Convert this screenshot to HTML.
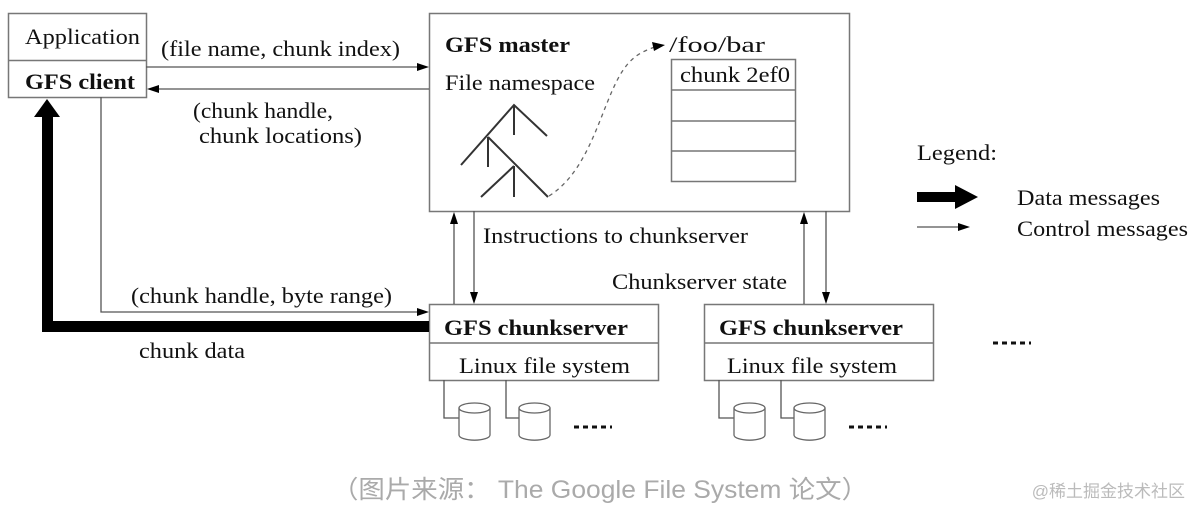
<!DOCTYPE html>
<html><head><meta charset="utf-8"><style>
html,body{margin:0;padding:0;background:#fff;}
svg{display:block}
.t{font-family:"Liberation Serif",serif;font-size:22px;fill:#111}
.b{font-weight:bold}
</style></head><body>
<svg width="1200" height="514" viewBox="0 0 1200 514" xmlns="http://www.w3.org/2000/svg">
<g fill="none" stroke="#777" stroke-width="1.5">
<rect x="8.5" y="13.5" width="138" height="84"/>
<line x1="8" y1="60.5" x2="146" y2="60.5"/>
<rect x="429.5" y="13.5" width="420" height="198"/>
<rect x="671.5" y="59.5" width="124" height="122"/>
<line x1="671" y1="90" x2="795" y2="90"/>
<line x1="671" y1="121" x2="795" y2="121"/>
<line x1="671" y1="151" x2="795" y2="151"/>
<rect x="429.5" y="304.5" width="229" height="76"/>
<line x1="429" y1="343" x2="658" y2="343"/>
<rect x="704.5" y="304.5" width="229" height="76"/>
<line x1="704" y1="343" x2="933" y2="343"/>
</g>
<g stroke="#555" stroke-width="1.3" fill="none">
<line x1="146" y1="67" x2="420" y2="67"/>
<line x1="158" y1="89" x2="429" y2="89"/>
<polyline points="101,97 101,312 420,312"/>
<line x1="454" y1="222" x2="454" y2="304"/>
<line x1="474" y1="211" x2="474" y2="294"/>
<line x1="804" y1="222" x2="804" y2="304"/>
<line x1="826" y1="211" x2="826" y2="294"/>
<line x1="917" y1="227" x2="960" y2="227"/>
<g stroke="#333" stroke-width="2">
<polyline points="461,165 514,105 547,136"/>
<line x1="514" y1="105" x2="514" y2="135"/>
<polyline points="488,137 548,197"/>
<line x1="488" y1="137" x2="488" y2="167"/>
<polyline points="481,197 514,166"/>
<line x1="514" y1="166" x2="514" y2="197"/>
</g>
<path d="M549,196 C590,170 600,110 620,75 C630,58 640,52 655,47" stroke-dasharray="4,4" stroke="#666"/>
<polyline points="444,380 444,418 459,418"/>
<polyline points="506,380 506,418 520,418"/>
<polyline points="719,380 719,418 734,418"/>
<polyline points="781,380 781,418 796,418"/>
</g>
<g fill="#000">
<polygon points="429,67 417,63 417,71"/>
<polygon points="147,89 159,85 159,93"/>
<polygon points="429,312 417,308 417,316"/>
<polygon points="454,212 450,224 458,224"/>
<polygon points="474,304 470,292 478,292"/>
<polygon points="804,212 800,224 808,224"/>
<polygon points="826,304 822,292 830,292"/>
<polygon points="665,45 652,42 654,51"/>
<polygon points="970,227 958,223 958,231"/>
<polygon points="917,192 955,192 955,185 978,197 955,209 955,202 917,202"/>
<rect x="42" y="115" width="11" height="217"/>
<rect x="42" y="321" width="387" height="11"/>
<polygon points="47,99 34,117 60,117"/>
</g>
<g fill="#fff" stroke="#666" stroke-width="1.3">
<path d="M459,408 v27 a15,5 0 0 0 31,0 v-27"/><ellipse cx="474.5" cy="408" rx="15.5" ry="5"/>
<path d="M519,408 v27 a15,5 0 0 0 31,0 v-27"/><ellipse cx="534.5" cy="408" rx="15.5" ry="5"/>
<path d="M734,408 v27 a15,5 0 0 0 31,0 v-27"/><ellipse cx="749.5" cy="408" rx="15.5" ry="5"/>
<path d="M794,408 v27 a15,5 0 0 0 31,0 v-27"/><ellipse cx="809.5" cy="408" rx="15.5" ry="5"/>
</g>
<g stroke="#111" stroke-width="3" stroke-dasharray="5,4">
<line x1="574" y1="427" x2="612" y2="427"/>
<line x1="849" y1="427" x2="887" y2="427"/>
<line x1="993" y1="343" x2="1031" y2="343"/>
</g>
<text class="t" x="25" y="44" textLength="115" lengthAdjust="spacingAndGlyphs">Application</text>
<text class="t b" x="25" y="89" textLength="110" lengthAdjust="spacingAndGlyphs">GFS client</text>
<text class="t" x="161" y="56" textLength="239" lengthAdjust="spacingAndGlyphs">(file name, chunk index)</text>
<text class="t" x="193" y="118" textLength="140" lengthAdjust="spacingAndGlyphs">(chunk handle,</text>
<text class="t" x="199" y="143" textLength="163" lengthAdjust="spacingAndGlyphs">chunk locations)</text>
<text class="t b" x="445" y="52" textLength="125" lengthAdjust="spacingAndGlyphs">GFS master</text>
<text class="t" x="445" y="90" textLength="150" lengthAdjust="spacingAndGlyphs">File namespace</text>
<text class="t" x="669" y="52" textLength="96" lengthAdjust="spacingAndGlyphs">/foo/bar</text>
<text class="t" x="680" y="82" textLength="110" lengthAdjust="spacingAndGlyphs">chunk 2ef0</text>
<text class="t" x="483" y="243" textLength="265" lengthAdjust="spacingAndGlyphs">Instructions to chunkserver</text>
<text class="t" x="612" y="289" textLength="175" lengthAdjust="spacingAndGlyphs">Chunkserver state</text>
<text class="t" x="131" y="303" textLength="261" lengthAdjust="spacingAndGlyphs">(chunk handle, byte range)</text>
<text class="t" x="139" y="358" textLength="106" lengthAdjust="spacingAndGlyphs">chunk data</text>
<text class="t b" x="444" y="335" textLength="184" lengthAdjust="spacingAndGlyphs">GFS chunkserver</text>
<text class="t" x="459" y="373" textLength="171" lengthAdjust="spacingAndGlyphs">Linux file system</text>
<text class="t b" x="719" y="335" textLength="184" lengthAdjust="spacingAndGlyphs">GFS chunkserver</text>
<text class="t" x="727" y="373" textLength="170" lengthAdjust="spacingAndGlyphs">Linux file system</text>
<text class="t" x="917" y="160" textLength="80" lengthAdjust="spacingAndGlyphs">Legend:</text>
<text class="t" x="1017" y="205" textLength="143" lengthAdjust="spacingAndGlyphs">Data messages</text>
<text class="t" x="1017" y="236" textLength="171" lengthAdjust="spacingAndGlyphs">Control messages</text>
<text x="332" y="498" textLength="536" lengthAdjust="spacingAndGlyphs" style="font-family:'Liberation Sans','Noto Sans CJK SC',sans-serif;font-size:25px;fill:#aaa">（图片来源： The Google File System 论文）</text>
<text x="1185" y="497" text-anchor="end" style="font-family:'Liberation Sans','Noto Sans CJK SC',sans-serif;font-size:17px;fill:#bbb">@稀土掘金技术社区</text>
</svg>
</body></html>
